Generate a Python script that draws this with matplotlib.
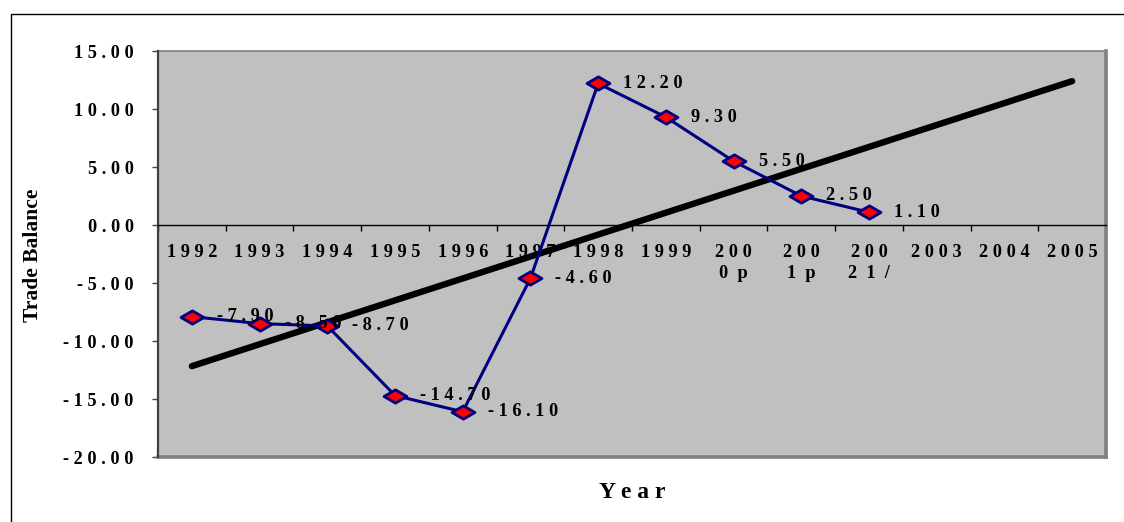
import numpy as np
import matplotlib
matplotlib.use("Agg")
import matplotlib.pyplot as plt
from matplotlib.path import Path
from matplotlib.lines import Line2D
from matplotlib.patches import Rectangle

# Trade balance by year (p = preliminary, 1/ = footnoted estimate)
categories = ["1992", "1993", "1994", "1995", "1996", "1997", "1998",
              "1999", "2000p", "2001p", "20021/", "2003", "2004", "2005"]
trade_balance = [-7.90, -8.50, -8.70, -14.70, -16.10, -4.60, 12.20,
                 9.30, 5.50, 2.50, 1.10]
y_ticks = [-20, -15, -10, -5, 0, 5, 10, 15]

FONT = "Liberation Serif"
FS = 13.2


def spaced(s):
    """Spread characters apart like the wide-tracked Excel labels."""
    return " ".join(s)


def wrap_label(s):
    if len(s) > 4:
        return spaced(s[:3]) + "\n" + "  ".join(s[3:])
    return spaced(s)


fig = plt.figure(figsize=(11.24, 5.22), dpi=100)
fig.patch.set_facecolor("white")

# outer chart border (top and left edges fall inside the image)
fig.add_artist(Rectangle((11 / 1124, -0.2), 1.5, 1.2 - 14 / 522,
                         transform=fig.transFigure, fill=False,
                         edgecolor="black", linewidth=1.0))

ax = fig.add_axes([158 / 1124, 1 - 457 / 522, (1106 - 158) / 1124, (457 - 51) / 522])
ax.set_facecolor("#C0C0C0")
ax.set_xlim(-0.5, len(categories) - 0.5)
ax.set_ylim(-20, 15)

# plot-area border: thin top, heavier right/bottom edges
ax.add_line(Line2D([0, 1], [1, 1], transform=ax.transAxes, color="#808080",
                   linewidth=1.2, clip_on=False))
ax.add_line(Line2D([1, 1], [0, 1], transform=ax.transAxes, color="#808080",
                   linewidth=2.6, clip_on=False))
ax.add_line(Line2D([0, 1], [0, 0], transform=ax.transAxes, color="#808080",
                   linewidth=2.6, clip_on=False))

for side in ("top", "right"):
    ax.spines[side].set_visible(False)
ax.spines["left"].set_color("#404040")
ax.spines["left"].set_linewidth(1.6)
ax.spines["bottom"].set_position(("data", 0))
ax.spines["bottom"].set_color("black")
ax.spines["bottom"].set_linewidth(1.0)

# y axis
ax.set_yticks(y_ticks)
ax.set_yticklabels([spaced(f"{v:.2f}") for v in y_ticks],
                   fontfamily=FONT, fontweight="bold", fontsize=FS)
ax.tick_params(axis="y", direction="out", length=4.5, width=1.0,
               color="#404040", pad=13)

# x axis: tick marks on category boundaries, labels at centres
x = np.arange(len(categories))
ax.set_xticks(np.arange(len(categories) + 1) - 0.5)
ax.set_xticklabels([])
ax.set_xticks(x, minor=True)
ax.set_xticklabels([wrap_label(c) for c in categories], minor=True,
                   fontfamily=FONT, fontweight="bold", fontsize=FS,
                   linespacing=1.25)
ax.tick_params(axis="x", which="major", direction="out", length=4, width=1.0,
               color="black")
ax.tick_params(axis="x", which="minor", length=0, pad=14)

# linear trend over observed years, extended to the last category
xd = np.arange(len(trade_balance))
slope, intercept = np.polyfit(xd, trade_balance, 1)
ax.plot(x, slope * x + intercept, color="black", linewidth=4.6,
        solid_capstyle="round", zorder=3)

# wide diamond marker
diamond = Path([(-1, 0), (0, 0.58), (1, 0), (0, -0.58), (-1, 0)],
               [Path.MOVETO, Path.LINETO, Path.LINETO, Path.LINETO, Path.CLOSEPOLY])
ax.plot(xd, trade_balance, color="#000080", linewidth=2.2, marker=diamond,
        markersize=16.5, markerfacecolor="#FF0000", markeredgecolor="#000080",
        markeredgewidth=2.0, zorder=4)

for xi, v in zip(xd, trade_balance):
    ax.annotate(spaced(f"{v:.2f}"), (xi, v), xytext=(18, 0),
                textcoords="offset points", ha="left", va="center",
                fontfamily=FONT, fontweight="bold", fontsize=FS, zorder=5)

fig.text(33 / 1124, 1 - 255 / 522, "Trade Balance", rotation=90,
         ha="center", va="center", fontfamily=FONT, fontweight="bold",
         fontsize=15.5)
fig.text(632 / 1124, 1 - 492 / 522, spaced("Year"), ha="center", va="center",
         fontfamily=FONT, fontweight="bold", fontsize=17)

fig.savefig("out.png", dpi=100, facecolor="white")
